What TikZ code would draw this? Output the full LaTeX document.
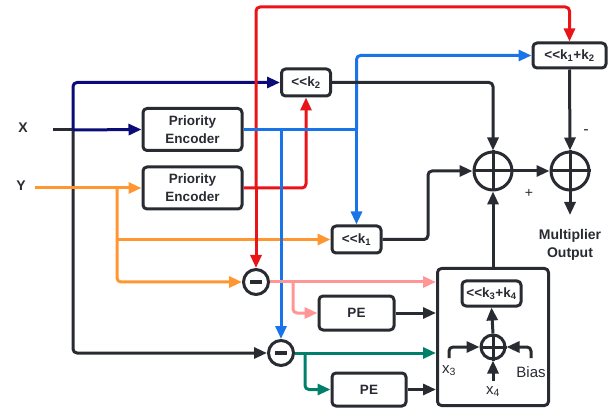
\documentclass[tikz,border=0pt]{standalone}
\usepackage{fontspec}
\setmainfont{Liberation Sans}[Ligatures=TeXOff]
\usetikzlibrary{arrows.meta,calc}
\definecolor{ink}{RGB}{40,43,49}
\definecolor{navyw}{RGB}{12,12,120}
\definecolor{redw}{RGB}{232,20,24}
\definecolor{bluew}{RGB}{24,116,232}
\definecolor{orangew}{RGB}{255,150,50}
\definecolor{pinkw}{RGB}{255,150,150}
\definecolor{greenw}{RGB}{0,128,106}
\begin{document}
\begin{tikzpicture}[x=1pt,y={(0pt,-1pt)},line join=round,
  wire/.style={line width=3pt,rounded corners=4pt},
  arr/.style={-{Triangle[length=13pt,width=11pt]}},
  blk/.style={draw=ink,line width=3pt,rounded corners=4pt,fill=white,
    text=ink,align=center,inner sep=0pt,
    font=\fontsize{13.5}{18}\selectfont\bfseries},
  sumc/.style={circle,draw=ink,line width=3pt,fill=white,inner sep=0pt},
  lbl/.style={text=ink,inner sep=0pt,font=\fontsize{14}{17}\selectfont},
  blbl/.style={lbl,font=\fontsize{14}{18}\selectfont\bfseries},
]
\useasboundingbox (0,0) rectangle (608,414);

% ---- blocks ----
\node[blk,minimum width=99pt,minimum height=42pt] (pe1) at (192.5,129.5) {Priority\\Encoder};
\node[blk,minimum width=99pt,minimum height=42pt] (pe2) at (192.5,188) {Priority\\Encoder};
\node[blk,minimum width=49pt,minimum height=27pt] (k2) at (306,82.5) {<<k\textsubscript{2}};
\node[blk,minimum width=49pt,minimum height=27pt] (k1) at (356.5,239.5) {<<k\textsubscript{1}};
\node[blk,minimum width=73pt,minimum height=25pt] (k12) at (569.5,55.5) {<<k\textsubscript{1}+k\textsubscript{2}};
\node[blk,minimum width=75pt,minimum height=34pt] (pea) at (356.5,313) {PE};
\node[blk,minimum width=74pt,minimum height=33pt] (peb) at (369,389.5) {PE};
\node[blk,minimum width=111pt,minimum height=137pt] (big) at (493,337) {};
\node[blk,minimum width=59pt,minimum height=25pt] (k34) at (491.5,293.5) {<<k\textsubscript{3}+k\textsubscript{4}};

% ---- adders and subtractors ----
\node[sumc,minimum size=38pt] (s1) at (493,171) {};
\node[sumc,minimum size=38pt] (s2) at (570,171) {};
\node[sumc,minimum size=24pt] (s3) at (493,347) {};
\foreach \s in {s1,s2,s3}{
  \draw[ink,line width=3pt] (\s.north) -- (\s.south) (\s.west) -- (\s.east);
}
\node[sumc,minimum size=25pt] (m1) at (256,282) {};
\node[sumc,minimum size=25pt] (m2) at (281,353) {};
\foreach \s in {m1,m2}{
  \draw[ink,line width=3.5pt] ($(\s.center)+(-6,0)$) -- ($(\s.center)+(6,0)$);
}

% ---- labels ----
\node[blbl] (xl) at (23,128) {X};
\node[blbl] (yl) at (21,186) {Y};
\node[blbl,align=center,anchor=north,inner ysep=14pt] (out) at (570,215) {Multiplier\\Output};
\node[lbl] (plus) at (529,193) {+};
\node[lbl,font=\fontsize{16}{17}\selectfont] (minus) at (586,132) {-};
\node[lbl,anchor=north,inner ysep=7pt,font=\fontsize{15}{17}\selectfont] (x3) at (449,358) {x\textsubscript{3}};
\node[lbl,anchor=north,inner ysep=8pt,font=\fontsize{15}{17}\selectfont] (bias) at (531,358) {Bias};
\node[lbl,anchor=north,inner ysep=5pt,font=\fontsize{15}{17}\selectfont] (x4) at (493,381) {x\textsubscript{4}};

% ---- junction points ----
\coordinate (xin) at (53,130);
\coordinate (xs) at (73,130);
\coordinate (yin) at (35,188);
\coordinate (ys) at (117,188);
\coordinate (yb) at (ys |- k1.west);
\coordinate (rs) at (m1 |- pe2.east);
\coordinate (rtop) at (256,7);
\coordinate (b1) at (m2 |- pe1.east);
\coordinate (b2) at (k1 |- pe1.east);
\coordinate (pb) at (293,282);
\coordinate (gb) at (305,353);
\coordinate (kc) at (428,239.5);

% ---- X input ----
\draw[wire,ink] (xin) -- (xs);
\draw[wire,ink,arr] (xs) |- (m2.west);
\draw[wire,navyw,arr] (xs) -- (pe1.west);
\draw[wire,navyw,arr] (xs) |- (k2.west);

% ---- Y input ----
\draw[wire,orangew,arr] (yin) -- (pe2.west);
\draw[wire,orangew,arr] (ys) |- (m1.west);
\draw[wire,orangew,arr] (yb) -- (k1.west);

% ---- encoder of Y ----
\draw[wire,redw,arr] (pe2.east) -| (k2.south);
\draw[wire,redw,arr] (rs) -- (m1.north);
\draw[wire,redw,arr] (rs) -- (rtop) -| (k12.north);

% ---- encoder of X ----
\draw[wire,bluew] (pe1.east) -- (b2);
\draw[wire,bluew,arr] (b1) -- (m2.north);
\draw[wire,bluew,arr] (b2) -- (k1.north);
\draw[wire,bluew,arr] (b2) |- (k12.west);

% ---- adder tree ----
\draw[wire,ink,arr] (k2.east) -| (s1.north);
\draw[wire,ink,arr] (k1.east) -- (kc) |- (s1.west);
\draw[wire,ink,arr] (k12.south) -- (s2.north);
\draw[wire,ink,arr] (s1.east) -- (s2.west);
\draw[wire,ink,arr] (big.north) -- (s1.south);
\draw[wire,ink,arr] (s2.south) -- (out.north);

% ---- differences ----
\draw[wire,pinkw,arr] (m1.east) -- (m1.east -| big.west);
\draw[wire,pinkw,arr] (pb) |- (pea.west);
\draw[wire,ink,arr] (pea.east) -- (pea.east -| big.west);
\draw[wire,greenw,arr] (m2.east) -- (m2.east -| big.west);
\draw[wire,greenw,arr] (gb) |- (peb.west);
\draw[wire,ink,arr] (peb.east) -- (peb.east -| big.west);

% ---- correction unit ----
\draw[wire,ink,arr] (s3.north) -- (k34.south);
\draw[wire,ink,arr] (x3.north) |- (s3.west);
\draw[wire,ink,arr] (bias.north) |- (s3.east);
\draw[wire,ink,arr] (x4.north) -- (s3.south);
\end{tikzpicture}
\end{document}
